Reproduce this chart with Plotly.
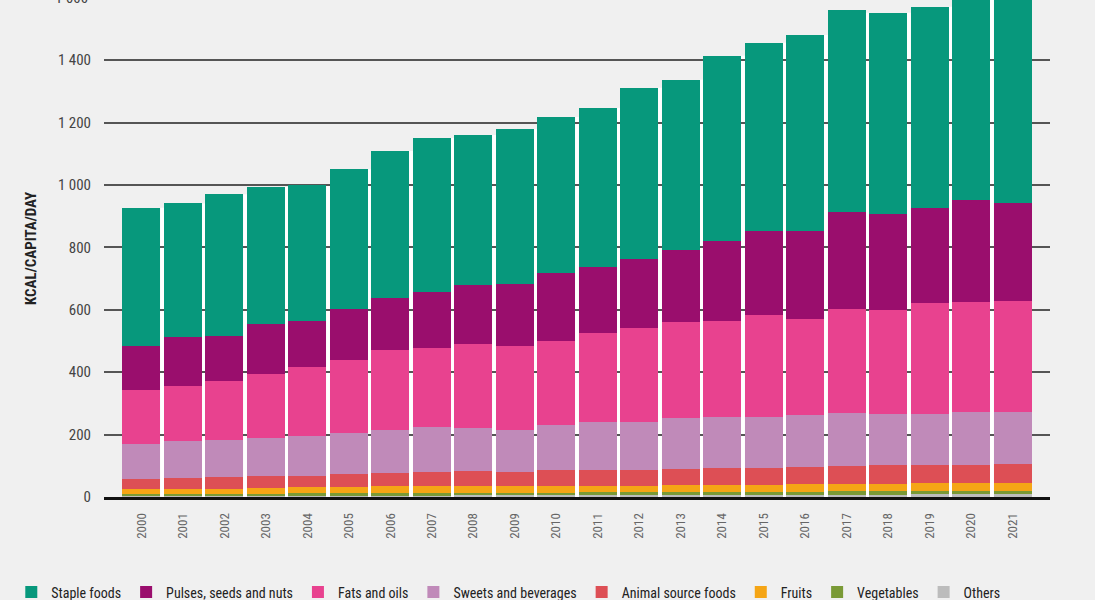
import plotly.graph_objects as go

years = [str(y) for y in range(2000, 2022)]

staple = [444, 429, 454, 441, 436, 448, 472, 493, 482, 497, 499, 509, 548, 544, 595, 603, 628, 649, 645, 644, 667, 708]
pulses = [139, 155, 145, 160, 148, 164, 167, 179, 188, 197, 220, 213, 221, 233, 255, 271, 282, 310, 307, 306, 329, 315]
fats = [174, 177, 188, 203, 220, 233, 255, 255, 269, 269, 269, 285, 304, 307, 309, 327, 307, 332, 333, 354, 352, 353]
sweets = [111, 119, 120, 122, 129, 131, 139, 144, 139, 136, 145, 154, 151, 163, 163, 162, 168, 170, 166, 166, 171, 168]
animal = [32, 34, 36, 39, 37, 43, 42, 46, 46, 45, 49, 51, 53, 52, 53, 53, 55, 57, 58, 56, 56, 60]
fruits = [17, 17, 17, 19, 19, 19, 22, 22, 23, 21, 22, 20, 20, 23, 23, 23, 24, 25, 25, 26, 26, 26]
vegetables = [7, 7, 7, 7, 8, 8, 8, 8, 8, 9, 9, 9, 9, 9, 10, 10, 10, 10, 10, 10, 10, 10]
others = [3, 3, 3, 3, 4, 4, 4, 4, 5, 5, 5, 6, 6, 6, 6, 7, 7, 8, 8, 9, 9, 10]

ytick_vals = [0, 200, 400, 600, 800, 1000, 1200, 1400]
ytick_text = ["0", "200", "400", "600", "800", "1 000", "1 200", "1 400"]

# stacking order from bottom to top
series = [
    ("Others", others, "#bcbcbc"),
    ("Vegetables", vegetables, "#7a9a36"),
    ("Fruits", fruits, "#f5a515"),
    ("Animal source foods", animal, "#dd4f55"),
    ("Sweets and beverages", sweets, "#c08ab9"),
    ("Fats and oils", fats, "#e8428f"),
    ("Pulses, seeds and nuts", pulses, "#9a0e6d"),
    ("Staple foods", staple, "#07987c"),
]

FONT = "Roboto Condensed, DejaVu Sans Condensed, Roboto, sans-serif"
BG = "#f0f0f0"

fig = go.Figure()
for name, vals, col in series:
    fig.add_trace(go.Bar(x=years, y=vals, name=name, marker=dict(color=col, line=dict(width=0))))

# white separators between neighbouring bars (drawn under gridlines)
totals = [sum(s[1][i] for s in series) for i in range(len(years))]
for i in range(len(years) - 1):
    h = min(totals[i], totals[i + 1])
    fig.add_shape(type="rect", xref="x", yref="y", x0=i + 0.5 - 0.045, x1=i + 0.5 + 0.045,
                  y0=0, y1=h, fillcolor="white", line=dict(width=0), layer="below")

fig.add_annotation(text="1 600", xref="paper", yref="paper", x=-0.015, y=1600 / 1593,
                   xanchor="right", yanchor="middle", showarrow=False,
                   font=dict(family=FONT, size=15, color="#444"))

fig.update_layout(
    width=1095, height=600,
    barmode="stack", bargap=0.085,
    paper_bgcolor=BG, plot_bgcolor="rgba(0,0,0,0)",
    margin=dict(l=104, r=45, t=0, b=103, autoexpand=False),
    font=dict(family=FONT, color="#444"),
    legend=dict(orientation="h", traceorder="reversed", x=-0.098, xanchor="left",
                y=-0.16, yanchor="top", font=dict(family=FONT, size=14, color="#222"),
                bgcolor="rgba(0,0,0,0)", itemclick=False),
    showlegend=True,
)
fig.update_xaxes(
    type="category", range=[-0.9, 21.9], tickangle=-90,
    tickfont=dict(family=FONT, size=13, color="#666"),
    showgrid=False, showline=True, linecolor="#111", linewidth=3,
    ticks="", ticklabelstandoff=8,
)
fig.update_yaxes(
    range=[0, 1593], tickvals=ytick_vals, ticktext=ytick_text,
    tickfont=dict(family=FONT, size=15, color="#444"),
    showgrid=True, gridcolor="#555", gridwidth=1.5, zeroline=False,
    ticks="", ticklabelstandoff=12,
    title=dict(text="<b>KCAL/CAPITA/DAY</b>", font=dict(family=FONT, size=15, color="#222"), standoff=17),
)

fig.write_html("out.html", config={"displayModeBar": False},
               post_script="document.body.style.margin='0';")
